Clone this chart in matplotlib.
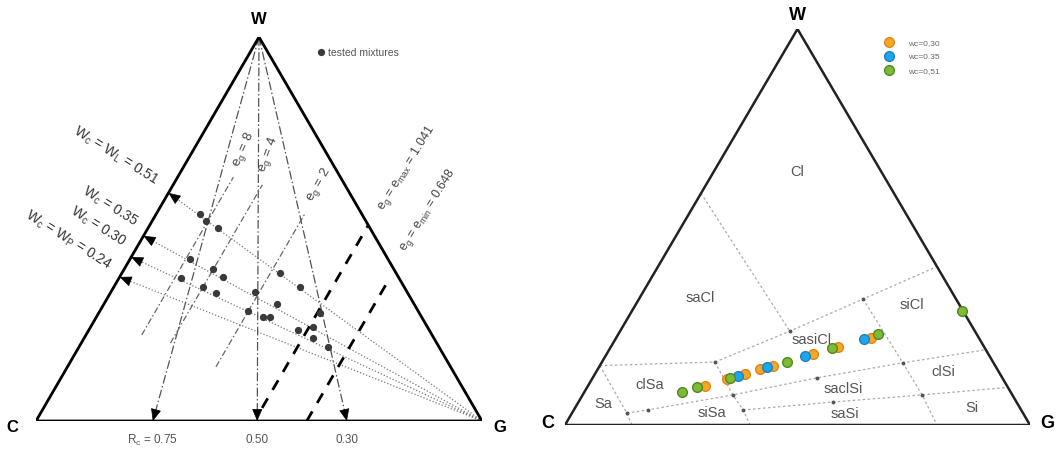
import numpy as np
import matplotlib.pyplot as plt

plt.rcParams['font.family'] = ['Liberation Sans', 'DejaVu Sans']
plt.rcParams['mathtext.default'] = 'regular'

# ---------- left diagram data (ternary fractions g = granular, w = water) ----------
wc_labels = ['W$_c$ = W$_L$ = 0.51', 'W$_c$ = 0.35', 'W$_c$ = 0.30', 'W$_c$ = W$_P$ = 0.24']
wc_edge_w = [0.594, 0.482, 0.427, 0.375]          # where each W_c line meets the C-W edge

rc_labels = ['R$_c$ = 0.75', '0.50', '0.30']
rc_base_g = [0.262, 0.496, 0.697]                 # where each R_c line meets the C-G edge

eg_labels = ['e$_g$ = 8', 'e$_g$ = 4', 'e$_g$ = 2']
eg_g = [0.125, 0.200, 0.333]
eg_w_lo = [0.224, 0.203, 0.141]
eg_w_hi = [0.635, 0.615, 0.542]

egl_labels = ['e$_g$ = e$_{max}$ = 1.041', 'e$_g$ = e$_{min}$ = 0.648']
egl_g = [0.490, 0.607]
egl_w_lo = [0.034, 0.0]
egl_w_hi = [0.510, 0.370]

mix_g = [0.098, 0.121, 0.157, 0.134, 0.199, 0.232, 0.139, 0.200, 0.237, 0.355, 0.418,
         0.323, 0.388, 0.332, 0.374, 0.390, 0.469, 0.499, 0.513, 0.497, 0.559]
mix_w = [0.539, 0.521, 0.503, 0.422, 0.396, 0.375, 0.372, 0.349, 0.333, 0.385, 0.349,
         0.336, 0.305, 0.286, 0.271, 0.271, 0.237, 0.245, 0.216, 0.281, 0.193]

# ---------- right diagram data ----------
zone_lines = [
    ([0.0, 0.243], [0.15, 0.159]),
    ([0.243, 0.365, 0.482, 0.60], [0.159, 0.237, 0.318, 0.40]),
    ([0.0, 0.365], [0.585, 0.237]),
    ([0.118, 0.159, 0.323, 0.482, 0.648, 0.81], [0.030, 0.038, 0.076, 0.119, 0.157, 0.19]),
    ([0.364, 0.547, 0.730, 0.905], [0.038, 0.058, 0.076, 0.095]),
    ([0.0, 0.118, 0.144], [0.15, 0.030, 0.0]),
    ([0.243, 0.323, 0.364, 0.398], [0.159, 0.076, 0.038, 0.0]),
    ([0.482, 0.648, 0.730, 0.80], [0.318, 0.157, 0.076, 0.0]),
]
node_g = [0.243, 0.365, 0.482, 0.118, 0.159, 0.323, 0.482, 0.648, 0.364, 0.547, 0.730]
node_w = [0.159, 0.237, 0.318, 0.030, 0.038, 0.076, 0.119, 0.157, 0.038, 0.058, 0.076]

zone_names = ['Cl', 'saCl', 'siCl', 'sasiCl', 'clSa', 'clSi', 'saclSi', 'Sa', 'siSa', 'saSi', 'Si']
zone_x = [0.499, 0.290, 0.746, 0.531, 0.183, 0.813, 0.598, 0.082, 0.316, 0.602, 0.875]
zone_y = [0.639, 0.321, 0.303, 0.215, 0.101, 0.134, 0.091, 0.053, 0.030, 0.028, 0.043]

series_labels = ['wc=0,30', 'wc=0.35', 'wc=0,51']
series_g = [
    [0.252, 0.290, 0.323, 0.349, 0.373, 0.444, 0.489, 0.548],
    [0.310, 0.361, 0.429, 0.535],
    [0.210, 0.236, 0.296, 0.398, 0.477, 0.558, 0.710],
]
series_w = [
    [0.0985, 0.116, 0.129, 0.141, 0.149, 0.179, 0.197, 0.220],
    [0.124, 0.146, 0.174, 0.217],
    [0.083, 0.096, 0.119, 0.159, 0.194, 0.230, 0.288],
]
series_face = ['#f6a724', '#1ea6ea', '#7dba35']
series_edge = ['#e0861a', '#1f7fc2', '#4f8a22']


def tern(g, w):
    g = np.asarray(g, dtype=float)
    w = np.asarray(w, dtype=float)
    return g + w / 2, w


def head(ax, p_from, p_to, size=11):
    d0 = ax.transData.transform(p_from)
    d1 = ax.transData.transform(p_to)
    v = (d1 - d0) / np.hypot(*(d1 - d0))
    ax.annotate('', xy=p_to, xytext=(-v[0] * 6, -v[1] * 6), textcoords='offset points',
                arrowprops=dict(arrowstyle='-|>,head_length=0.7,head_width=0.3', color='black',
                                lw=0.5, shrinkA=0, shrinkB=0, mutation_scale=size))


fig = plt.figure(figsize=(10.56, 4.51), dpi=100)
axL = fig.add_axes([36 / 1056, 30 / 451, 446 / 1056, 384 / 451])
axR = fig.add_axes([565 / 1056, 26 / 451, 465 / 1056, 396 / 451])
for ax in (axL, axR):
    ax.set_xlim(0, 1)
    ax.set_ylim(0, 1)
    ax.axis('off')

# ---------------- left ----------------
ax = axL
tx, ty = tern([0, 1, 0, 0], [0, 0, 1, 0])
ax.plot(tx, ty, color='black', lw=2, zorder=5, solid_joinstyle='miter')

for wv in wc_edge_w:
    x, y = tern([1, 0], [0, wv])
    ax.plot(x, y, color='#777777', lw=0.9, dashes=(1, 1.6))
    head(ax, (x[0], y[0]), (x[1], y[1]))

for gv in rc_base_g:
    x, y = tern([0, gv], [1, 0])
    ax.plot(x, y, color='#555555', lw=0.9, dashes=(7, 2, 1.2, 2))
    head(ax, (x[0], y[0]), (x[1], y[1]))

for gv, lo, hi in zip(eg_g, eg_w_lo, eg_w_hi):
    x, y = tern([gv, gv], [lo, hi])
    ax.plot(x, y, color='#666666', lw=0.9, dashes=(5, 2, 1.2, 2))

for gv, lo, hi in zip(egl_g, egl_w_lo, egl_w_hi):
    x, y = tern([gv, gv], [lo, hi])
    ax.plot(x, y, color='black', lw=2, dashes=(4, 3.5))

mx, my = tern(mix_g, mix_w)
ax.plot(mx, my, 'o', color='#3a3a3a', ms=4.2, zorder=6, label='tested mixtures')
ax.legend(loc='upper left', bbox_to_anchor=(0.615, 0.985), frameon=False, fontsize=7.5,
          handletextpad=0.2, handlelength=1, borderpad=0, labelcolor='#555555')

wc_pos = [(0.179, 0.69), (0.166, 0.557), (0.139, 0.505), (0.072, 0.471)]
for lab, (x, y) in zip(wc_labels, wc_pos):
    ax.text(x, y, lab, rotation=-32, ha='center', va='center', fontsize=10, color='#333333',
            rotation_mode='anchor', clip_on=False)

eg_pos = [(0.466, 0.706, 66), (0.520, 0.693, 70), (0.635, 0.615, 60)]
for lab, (x, y, r) in zip(eg_labels, eg_pos):
    ax.text(x, y, lab, rotation=r, ha='center', va='center', fontsize=9.5, color='#444444',
            rotation_mode='anchor')

egl_pos = [(0.830, 0.659), (0.879, 0.549)]
for lab, (x, y) in zip(egl_labels, egl_pos):
    ax.text(x, y, lab, rotation=58, ha='center', va='center', fontsize=9, color='#444444',
            rotation_mode='anchor')

for lab, gv in zip(rc_labels, rc_base_g):
    ax.text(gv, -0.05, lab, ha='center', va='center', fontsize=8.5, color='#555555', clip_on=False)

ax.text(0.5, 1.045, 'W', ha='center', va='center', fontsize=12, fontweight='bold', clip_on=False)
ax.text(-0.052, -0.016, 'C', ha='center', va='center', fontsize=12, fontweight='bold', clip_on=False)
ax.text(1.04, -0.016, 'G', ha='center', va='center', fontsize=12, fontweight='bold', clip_on=False)

# ---------------- right ----------------
ax = axR
ax.plot(tx, ty, color='#222222', lw=1.8, zorder=5, solid_joinstyle='miter')
for lg, lw_ in zone_lines:
    x, y = tern(lg, lw_)
    ax.plot(x, y, color='#aaaaaa', lw=0.9, dashes=(2, 2))
nx, ny = tern(node_g, node_w)
ax.plot(nx, ny, 'o', color='#555555', ms=1.8, lw=0)

for name, x, y in zip(zone_names, zone_x, zone_y):
    ax.text(x, y, name, ha='center', va='center', fontsize=10.5, color='#555555')

for lab, sg, sw, fc, ec in zip(series_labels, series_g, series_w, series_face, series_edge):
    x, y = tern(sg, sw)
    ax.plot(x, y, 'o', ms=7, mfc=fc, mec=ec, mew=1, lw=0, label=lab, zorder=6)
ax.legend(loc='upper left', bbox_to_anchor=(0.67, 0.985), frameon=False, fontsize=6,
          handletextpad=1.3, labelspacing=0.75, borderpad=0, labelcolor='#666666')

ax.text(0.499, 1.035, 'W', ha='center', va='center', fontsize=13, fontweight='bold', clip_on=False)
ax.text(-0.037, 0.005, 'C', ha='center', va='center', fontsize=13, fontweight='bold', clip_on=False)
ax.text(1.037, 0.005, 'G', ha='center', va='center', fontsize=13, fontweight='bold', clip_on=False)

plt.savefig('out.png', dpi=100)
